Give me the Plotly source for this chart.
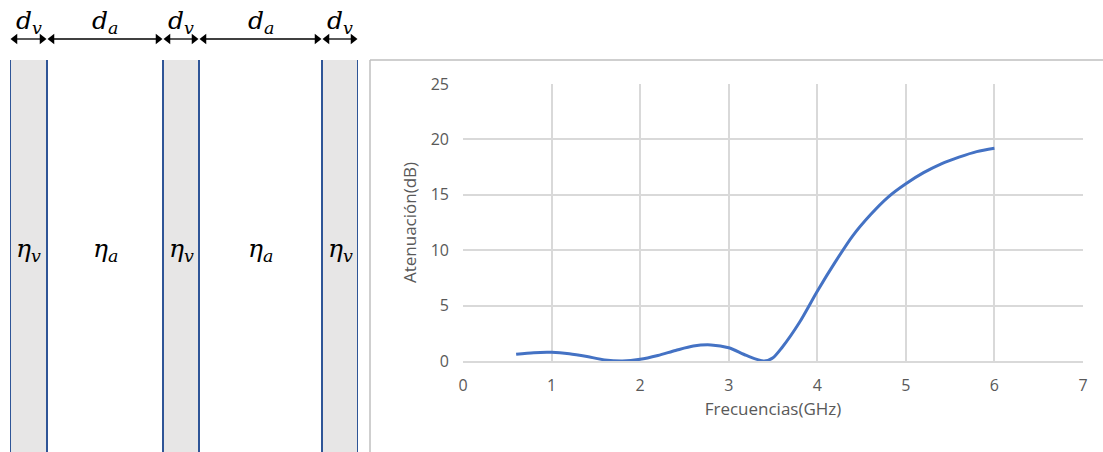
import numpy as np
import plotly.graph_objects as go

# ---- data ----
freq_ghz = [0.6, 0.8, 1.0, 1.2, 1.4, 1.6, 1.8, 2.0, 2.2, 2.4, 2.6, 2.8, 3.0, 3.2, 3.4, 3.5,
            3.6, 3.8, 4.0, 4.2, 4.4, 4.6, 4.8, 5.0, 5.2, 5.4, 5.6, 5.8, 6.0]
atten_db = [0.6, 0.75, 0.78, 0.65, 0.4, 0.1, 0.0, 0.15, 0.5, 0.95, 1.35, 1.45, 1.2, 0.5, 0.0, 0.3,
            1.2, 3.5, 6.3, 8.9, 11.3, 13.2, 14.8, 16.0, 17.0, 17.8, 18.4, 18.9, 19.2]
x_ticks = [0, 1, 2, 3, 4, 5, 6, 7]
y_ticks = [0, 5, 10, 15, 20, 25]

layer_widths = [37, 116, 36, 123, 36]
layer_kind = ["v", "a", "v", "a", "v"]

# ---- derived geometry for diagram ----
edges = np.concatenate([[0], np.cumsum(layer_widths)])
centers = (edges[:-1] + edges[1:]) / 2
fills = ["#E7E6E6" if k == "v" else "#FFFFFF" for k in layer_kind]

W, H = 1103, 452
fig = go.Figure()

# diagram layers
fig.add_trace(go.Bar(
    x=centers, y=[1.3] * len(layer_widths), base=[-0.1] * len(layer_widths),
    width=layer_widths, marker=dict(color=fills, line=dict(color="#2F5597", width=2)),
    xaxis="x2", yaxis="y2", showlegend=False, hoverinfo="skip"))

# dimension arrows above the layers (own strip, same horizontal scale)
inset = 5.0
for i in range(len(layer_widths)):
    x0, x1 = float(edges[i]), float(edges[i + 1])
    fig.add_trace(go.Scatter(
        x=[x0 + inset, x1 - inset], y=[0.5, 0.5], mode="lines+markers",
        line=dict(color="black", width=1.3),
        marker=dict(symbol=["triangle-left", "triangle-right"], size=9, color="black"),
        xaxis="x3", yaxis="y3", showlegend=False, hoverinfo="skip"))

# curve
fig.add_trace(go.Scatter(
    x=freq_ghz, y=atten_db, mode="lines",
    line=dict(color="#4472C4", width=3, shape="spline", smoothing=0.8),
    showlegend=False, xaxis="x", yaxis="y"))

tick_font = dict(family="Open Sans", size=16, color="#595959")
title_font = dict(family="Open Sans", size=17, color="#595959")
y2_top = (H - 60) / H
x2_dom = [10 / W, 358 / W]
fig.update_layout(
    width=W, height=H, margin=dict(l=0, r=0, t=0, b=0, pad=0),
    paper_bgcolor="white", plot_bgcolor="white", showlegend=False,
    xaxis=dict(domain=[463 / W, 1083 / W], range=[0, 7], tickvals=x_ticks,
               showgrid=True, gridcolor="#D9D9D9", gridwidth=2,
               zeroline=False, showline=True, linecolor="#D9D9D9", linewidth=2,
               ticks="", ticklabelstandoff=9, tickfont=tick_font, automargin=False,
               title=dict(text="Frecuencias(GHz)", font=title_font, standoff=8)),
    yaxis=dict(domain=[(H - 361) / H, (H - 84) / H], range=[0, 25], tickvals=y_ticks,
               showgrid=True, gridcolor="#D9D9D9", gridwidth=2,
               zeroline=False, showline=False,
               ticks="", ticklabelstandoff=13, tickfont=tick_font, automargin=False,
               title=dict(text="Atenuación(dB)", font=title_font, standoff=9)),
    xaxis2=dict(domain=x2_dom, range=[0, float(edges[-1])], visible=False,
                anchor="y2", fixedrange=True, automargin=False),
    yaxis2=dict(domain=[0, y2_top], range=[0, 1.0], visible=False,
                anchor="x2", fixedrange=True, automargin=False),
    xaxis3=dict(domain=x2_dom, range=[0, float(edges[-1])], visible=False,
                anchor="y3", fixedrange=True, automargin=False),
    yaxis3=dict(domain=[(H - 49) / H, (H - 29) / H], range=[0, 1.0], visible=False,
                anchor="x3", fixedrange=True, automargin=False),
    bargap=0,
)

# chart-area frame (left and top gray borders)
fig.add_shape(type="line", xref="paper", yref="paper", x0=370 / W, x1=370 / W,
              y0=0, y1=y2_top, line=dict(color="#BFBFBF", width=1.5))
fig.add_shape(type="line", xref="paper", yref="paper", x0=370 / W, x1=1.0,
              y0=y2_top, y1=y2_top, line=dict(color="#BFBFBF", width=1.5))

label_y = (H - 22) / H
for i, k in enumerate(layer_kind):
    fig.add_annotation(x=float(centers[i]), y=label_y, xref="x2", yref="paper",
                       text=f"<i>d</i><sub><i>{k}</i></sub>",
                       showarrow=False, yanchor="middle",
                       font=dict(family="DejaVu Serif", size=25, color="black"))
    fig.add_annotation(x=float(centers[i]), y=0.515, xref="x2", yref="y2",
                       text=f"<i>η</i><sub><i>{k}</i></sub>",
                       showarrow=False, yanchor="middle",
                       font=dict(family="DejaVu Serif", size=25, color="black"))

fig.write_html("out.html")
